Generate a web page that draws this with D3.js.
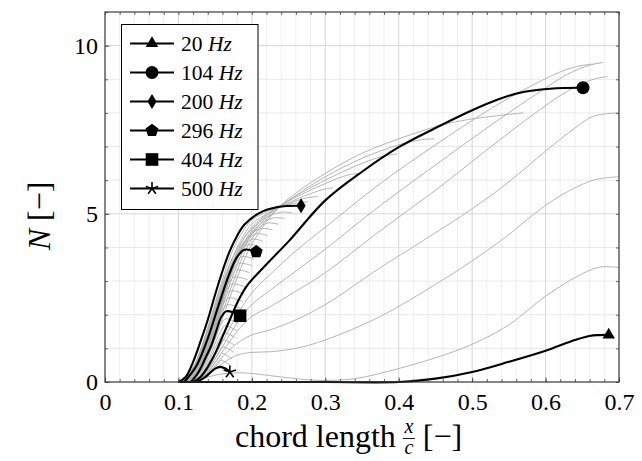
<!DOCTYPE html>
<html>
<head>
<meta charset="utf-8">
<script src="https://cdn.jsdelivr.net/npm/d3@7"></script>
<style>
  body { margin: 0; background: #fff; }
  svg { display: block; }
  text { font-family: "Liberation Serif", "DejaVu Serif", serif; fill: #000; }
</style>
</head>
<body>
<svg id="chart" width="642" height="461"></svg>
<script>
// N-factor growth along the chord for each disturbance frequency.

// Axis ticks
const xMajorTicks = [0, 0.1, 0.2, 0.3, 0.4, 0.5, 0.6, 0.7];
const xTickLabels = ["0", "0.1", "0.2", "0.3", "0.4", "0.5", "0.6", "0.7"];
const yMajorTicks = [0, 5, 10];
const yTickLabels = ["0", "5", "10"];

// Highlighted frequencies [Hz]
const highlightFreqs = [20, 104, 200, 296, 404, 500];
const hx20  = [0.10, 0.20, 0.30, 0.40, 0.45, 0.50, 0.55, 0.60, 0.64, 0.66, 0.686];
const hn20  = [0, 0, 0, 0.0, 0.1, 0.3, 0.6, 0.93, 1.25, 1.37, 1.40];
const hx104 = [0.12, 0.13, 0.14, 0.15, 0.16, 0.17, 0.18, 0.193, 0.22, 0.25, 0.30, 0.35, 0.40, 0.45, 0.50, 0.535, 0.565, 0.606, 0.651];
const hn104 = [0, 0.15, 0.45, 0.85, 1.35, 1.85, 2.35, 2.85, 3.5, 4.18, 5.4, 6.25, 6.98, 7.55, 8.08, 8.40, 8.60, 8.72, 8.75];
const hx200 = [0.10, 0.11, 0.12, 0.13, 0.14, 0.15, 0.16, 0.17, 0.18, 0.19, 0.21, 0.235, 0.267];
const hn200 = [0, 0.15, 0.6, 1.2, 1.85, 2.6, 3.3, 3.9, 4.35, 4.68, 5.02, 5.2, 5.24];
const hx296 = [0.108, 0.125, 0.14, 0.155, 0.17, 0.18, 0.19, 0.206];
const hn296 = [0, 0.5, 1.3, 2.3, 3.25, 3.72, 3.93, 3.87];
const hx404 = [0.117, 0.127, 0.137, 0.145, 0.152, 0.158, 0.165, 0.175, 0.184];
const hn404 = [0, 0.28, 0.72, 1.1, 1.55, 1.92, 2.10, 2.07, 1.97];
const hx500 = [0.125, 0.135, 0.143, 0.15, 0.157, 0.164, 0.170];
const hn500 = [0, 0.12, 0.27, 0.4, 0.45, 0.4, 0.30];

// Remaining frequencies [Hz], drawn in grey
const backgroundFreqs = [32, 44, 56, 68, 80, 92, 116, 128, 140, 152, 164, 176, 188,
  212, 224, 236, 248, 260, 272, 284, 308, 320, 332, 344, 356, 368, 380, 392,
  416, 428, 440, 452, 464, 476, 488];
const backgroundX = [
  [0.10, 0.13, 0.16, 0.19, 0.24, 0.29, 0.34, 0.40, 0.45, 0.50, 0.55, 0.60, 0.65, 0.675, 0.70],
  [0.125, 0.14, 0.16, 0.18, 0.20, 0.225, 0.26, 0.30, 0.375, 0.45, 0.50, 0.542, 0.61, 0.665, 0.70],
  [0.125, 0.14, 0.16, 0.18, 0.20, 0.225, 0.26, 0.30, 0.375, 0.433, 0.50, 0.55, 0.602, 0.64, 0.665, 0.70],
  [0.125, 0.14, 0.16, 0.18, 0.20, 0.225, 0.26, 0.30, 0.375, 0.45, 0.52, 0.58, 0.63, 0.665, 0.684],
  [0.125, 0.14, 0.16, 0.18, 0.20, 0.225, 0.26, 0.30, 0.375, 0.45, 0.52, 0.58, 0.63, 0.66, 0.678],
  [0.125, 0.14, 0.16, 0.18, 0.20, 0.225, 0.26, 0.30, 0.375, 0.45, 0.52, 0.58, 0.63, 0.655, 0.665],
  [0.113, 0.13, 0.14, 0.15, 0.16, 0.17, 0.18, 0.19, 0.20, 0.225, 0.25, 0.30, 0.35, 0.416, 0.47, 0.52, 0.57],
  [0.112, 0.13, 0.14, 0.15, 0.16, 0.17, 0.18, 0.19, 0.20, 0.225, 0.25, 0.30, 0.35, 0.40, 0.43, 0.449],
  [0.111, 0.13, 0.14, 0.15, 0.16, 0.17, 0.18, 0.19, 0.20, 0.225, 0.25, 0.30, 0.35, 0.38, 0.398],
  [0.109, 0.13, 0.14, 0.15, 0.16, 0.17, 0.18, 0.19, 0.20, 0.225, 0.25, 0.30, 0.33, 0.345],
  [0.107, 0.13, 0.14, 0.15, 0.16, 0.17, 0.18, 0.19, 0.20, 0.225, 0.25, 0.28, 0.30, 0.31],
  [0.105, 0.12, 0.13, 0.14, 0.15, 0.16, 0.17, 0.18, 0.19, 0.20, 0.225, 0.25, 0.27, 0.29],
  [0.103, 0.12, 0.13, 0.14, 0.15, 0.16, 0.17, 0.18, 0.19, 0.20, 0.225, 0.25, 0.277],
  [0.101, 0.12, 0.14, 0.16, 0.18, 0.20, 0.22, 0.24, 0.255],
  [0.102, 0.12, 0.14, 0.16, 0.18, 0.20, 0.215, 0.23, 0.245],
  [0.103, 0.12, 0.14, 0.16, 0.18, 0.20, 0.22, 0.236],
  [0.104, 0.12, 0.14, 0.16, 0.18, 0.195, 0.212, 0.228],
  [0.105, 0.12, 0.14, 0.16, 0.175, 0.19, 0.205, 0.221],
  [0.106, 0.12, 0.14, 0.16, 0.175, 0.188, 0.199, 0.215],
  [0.107, 0.12, 0.14, 0.155, 0.17, 0.183, 0.194, 0.21],
  [0.109, 0.125, 0.14, 0.155, 0.168, 0.178, 0.186, 0.203],
  [0.110, 0.125, 0.14, 0.155, 0.166, 0.175, 0.182, 0.200],
  [0.111, 0.125, 0.14, 0.152, 0.163, 0.172, 0.179, 0.197],
  [0.112, 0.125, 0.14, 0.15, 0.16, 0.169, 0.176, 0.194],
  [0.113, 0.125, 0.14, 0.15, 0.158, 0.166, 0.173, 0.192],
  [0.114, 0.125, 0.138, 0.148, 0.156, 0.164, 0.171, 0.190],
  [0.115, 0.125, 0.136, 0.146, 0.154, 0.162, 0.169, 0.188],
  [0.116, 0.126, 0.136, 0.145, 0.153, 0.160, 0.167, 0.186],
  [0.118, 0.128, 0.137, 0.145, 0.152, 0.158, 0.164, 0.182],
  [0.119, 0.129, 0.138, 0.146, 0.152, 0.158, 0.163, 0.180],
  [0.120, 0.13, 0.139, 0.146, 0.152, 0.157, 0.162, 0.178],
  [0.121, 0.131, 0.14, 0.147, 0.152, 0.157, 0.161, 0.176],
  [0.122, 0.132, 0.141, 0.148, 0.153, 0.157, 0.160, 0.175],
  [0.123, 0.133, 0.142, 0.148, 0.153, 0.156, 0.159, 0.173],
  [0.124, 0.134, 0.143, 0.149, 0.153, 0.156, 0.158, 0.171]
];
const backgroundN = [
  [0, 0.1, 0.24, 0.27, 0.15, 0.05, 0.1, 0.4, 0.72, 1.12, 1.7, 2.55, 3.22, 3.42, 3.4],
  [0, 0.2, 0.55, 0.8, 0.88, 0.9, 1.0, 1.25, 1.95, 2.9, 3.6, 4.25, 5.4, 6.0, 6.1],
  [0, 0.25, 0.75, 1.15, 1.4, 1.55, 1.85, 2.3, 3.4, 4.2, 5.15, 5.95, 6.9, 7.55, 7.9, 8.0],
  [0, 0.3, 0.9, 1.5, 1.95, 2.24, 2.7, 3.25, 4.5, 5.7, 6.9, 7.9, 8.65, 9.0, 9.08],
  [0, 0.35, 1.05, 1.75, 2.3, 2.73, 3.3, 3.95, 5.25, 6.45, 7.55, 8.45, 9.15, 9.42, 9.5],
  [0, 0.4, 1.2, 2.0, 2.65, 3.2, 3.9, 4.6, 5.9, 7.05, 8.05, 8.8, 9.3, 9.43, 9.45],
  [0, 0.3, 0.75, 1.3, 1.9, 2.5, 3.1, 3.65, 4.1, 4.9, 5.45, 6.2, 6.8, 7.35, 7.7, 7.88, 8.0],
  [0, 0.35, 0.85, 1.45, 2.05, 2.7, 3.3, 3.85, 4.25, 4.95, 5.4, 6.1, 6.65, 7.05, 7.2, 7.23],
  [0, 0.4, 0.95, 1.6, 2.25, 2.9, 3.5, 4.0, 4.4, 5.0, 5.4, 6.0, 6.5, 6.72, 6.78],
  [0, 0.5, 1.05, 1.75, 2.45, 3.1, 3.7, 4.15, 4.5, 5.05, 5.38, 5.9, 6.15, 6.2],
  [0, 0.6, 1.2, 1.9, 2.65, 3.3, 3.85, 4.3, 4.6, 5.05, 5.33, 5.6, 5.74, 5.77],
  [0, 0.3, 0.75, 1.35, 2.1, 2.85, 3.5, 4.0, 4.4, 4.7, 5.05, 5.3, 5.45, 5.52],
  [0, 0.4, 0.95, 1.6, 2.35, 3.05, 3.7, 4.2, 4.55, 4.82, 5.1, 5.28, 5.36],
  [0, 0.45, 1.6, 2.95, 3.95, 4.55, 4.9, 5.05, 5.03],
  [0, 0.42, 1.55, 2.85, 3.85, 4.45, 4.75, 4.88, 4.86],
  [0, 0.4, 1.5, 2.8, 3.8, 4.4, 4.72, 4.69],
  [0, 0.38, 1.45, 2.75, 3.75, 4.3, 4.56, 4.52],
  [0, 0.36, 1.4, 2.7, 3.5, 4.1, 4.4, 4.36],
  [0, 0.34, 1.35, 2.65, 3.45, 3.98, 4.24, 4.19],
  [0, 0.32, 1.3, 2.35, 3.3, 3.85, 4.08, 4.03],
  [0, 0.45, 1.25, 2.2, 3.05, 3.55, 3.73, 3.66],
  [0, 0.42, 1.2, 2.1, 2.85, 3.35, 3.53, 3.46],
  [0, 0.4, 1.15, 1.9, 2.65, 3.15, 3.33, 3.25],
  [0, 0.37, 1.1, 1.75, 2.45, 2.95, 3.12, 3.04],
  [0, 0.34, 1.05, 1.65, 2.25, 2.75, 2.91, 2.82],
  [0, 0.31, 0.9, 1.5, 2.05, 2.55, 2.71, 2.61],
  [0, 0.28, 0.8, 1.35, 1.85, 2.35, 2.50, 2.39],
  [0, 0.27, 0.72, 1.2, 1.7, 2.15, 2.30, 2.18],
  [0, 0.25, 0.62, 1.0, 1.4, 1.72, 1.88, 1.74],
  [0, 0.22, 0.55, 0.92, 1.25, 1.52, 1.67, 1.52],
  [0, 0.2, 0.5, 0.82, 1.1, 1.32, 1.46, 1.31],
  [0, 0.18, 0.45, 0.72, 0.95, 1.12, 1.25, 1.10],
  [0, 0.16, 0.4, 0.62, 0.8, 0.95, 1.05, 0.89],
  [0, 0.14, 0.34, 0.52, 0.66, 0.77, 0.85, 0.69],
  [0, 0.12, 0.27, 0.42, 0.52, 0.6, 0.65, 0.49]
];

const highlightX = [hx20, hx104, hx200, hx296, hx404, hx500];
const highlightN = [hn20, hn104, hn200, hn296, hn404, hn500];
const markerKinds = ["triangle", "circle", "diamond", "pentagon", "square", "star"];

const svg = d3.select("#chart");
const plot = { left: 105, right: 619, top: 12, bottom: 382 };
const x = d3.scaleLinear().domain([0, 0.7]).range([plot.left, plot.right]);
const y = d3.scaleLinear().domain([0, 11]).range([plot.bottom, plot.top]);

// Grid
const xMinor = d3.range(0, 0.7001, 0.02).filter(v => Math.abs(v * 10 - Math.round(v * 10)) > 1e-6);
const yMinor = d3.range(0, 11.001, 1).filter(v => v % 5 !== 0);
const grid = svg.append("g");
grid.selectAll(".gxm").data(xMinor).join("line")
  .attr("x1", d => x(d)).attr("x2", d => x(d)).attr("y1", plot.top).attr("y2", plot.bottom)
  .attr("stroke", "#efefef").attr("stroke-width", 1);
grid.selectAll(".gym").data(yMinor).join("line")
  .attr("x1", plot.left).attr("x2", plot.right).attr("y1", d => y(d)).attr("y2", d => y(d))
  .attr("stroke", "#e9e9e9").attr("stroke-width", 1);
grid.selectAll(".gxM").data(xMajorTicks).join("line")
  .attr("x1", d => x(d)).attr("x2", d => x(d)).attr("y1", plot.top).attr("y2", plot.bottom)
  .attr("stroke", "#d6d6d6").attr("stroke-width", 1);
grid.selectAll(".gyM").data(yMajorTicks).join("line")
  .attr("x1", plot.left).attr("x2", plot.right).attr("y1", d => y(d)).attr("y2", d => y(d))
  .attr("stroke", "#d6d6d6").attr("stroke-width", 1);

// Curves
const line = d3.line().x(d => x(d[0])).y(d => y(d[1])).curve(d3.curveCatmullRom.alpha(0.5));
const toPoints = (xs, ns) => xs.map((v, i) => [v, ns[i]]);

svg.append("g").selectAll("path").data(backgroundFreqs).join("path")
  .attr("d", (f, i) => line(toPoints(backgroundX[i], backgroundN[i])))
  .attr("fill", "none").attr("stroke", "#adadad").attr("stroke-width", 0.9);

svg.append("g").selectAll("path").data(highlightFreqs).join("path")
  .attr("d", (f, i) => line(toPoints(highlightX[i], highlightN[i])))
  .attr("fill", "none").attr("stroke", "#000").attr("stroke-width", 2.1)
  .attr("stroke-linejoin", "round");

// Marker shapes
function polygon(n, r, rot) {
  const pts = d3.range(n).map(k => {
    const a = rot + k * 2 * Math.PI / n;
    return [r * Math.cos(a), r * Math.sin(a)];
  });
  return "M" + pts.map(p => p.join(",")).join("L") + "Z";
}
function drawMarker(g, kind, cx, cy) {
  const m = g.append("g").attr("transform", `translate(${cx},${cy})`);
  if (kind === "triangle") {
    m.append("path").attr("d", polygon(3, 7.2, -Math.PI / 2)).attr("fill", "#000");
  } else if (kind === "circle") {
    m.append("circle").attr("r", 6.5).attr("fill", "#000");
  } else if (kind === "diamond") {
    m.append("path").attr("d", "M0,-7.5L4.6,0L0,7.5L-4.6,0Z").attr("fill", "#000");
  } else if (kind === "pentagon") {
    m.append("path").attr("d", polygon(5, 6.8, -Math.PI / 2)).attr("fill", "#000");
  } else if (kind === "square") {
    m.append("rect").attr("x", -6.3).attr("y", -6.3).attr("width", 12.6).attr("height", 12.6).attr("fill", "#000");
  } else if (kind === "star") {
    d3.range(5).forEach(k => {
      const a = -Math.PI / 2 + k * 2 * Math.PI / 5;
      m.append("line").attr("x1", 0).attr("y1", 0)
        .attr("x2", 6.5 * Math.cos(a)).attr("y2", 6.5 * Math.sin(a))
        .attr("stroke", "#000").attr("stroke-width", 1.6);
    });
  }
}

const markers = svg.append("g");
highlightFreqs.forEach((f, i) => {
  const xs = highlightX[i], ns = highlightN[i];
  drawMarker(markers, markerKinds[i], x(xs[xs.length - 1]), y(ns[ns.length - 1]));
});

// Axes: ticks point inward on all four sides
const fmtX = d => xTickLabels[xMajorTicks.indexOf(d)];
const fmtY = d => yTickLabels[yMajorTicks.indexOf(d)];
const xMinorAll = d3.range(0, 0.7001, 0.02);
const yMinorAll = d3.range(0, 11.001, 1);

function styleAxis(g) {
  g.select(".domain").remove();
  g.selectAll(".tick line").attr("stroke", "#444").attr("stroke-width", 0.8);
  g.selectAll("text").attr("font-family", "Liberation Serif, DejaVu Serif, serif").attr("font-size", 24).attr("fill", "#000");
}
svg.append("g").attr("transform", `translate(0,${plot.bottom})`)
  .call(d3.axisBottom(x).tickValues(xMinorAll).tickSize(-3).tickFormat("")).call(styleAxis);
svg.append("g").attr("transform", `translate(0,${plot.bottom})`)
  .call(d3.axisBottom(x).tickValues(xMajorTicks).tickSize(-4.5).tickPadding(11).tickFormat(fmtX)).call(styleAxis);
svg.append("g").attr("transform", `translate(0,${plot.top})`)
  .call(d3.axisTop(x).tickValues(xMinorAll).tickSize(-3).tickFormat("")).call(styleAxis);
svg.append("g").attr("transform", `translate(${plot.left},0)`)
  .call(d3.axisLeft(y).tickValues(yMinorAll).tickSize(-3).tickFormat("")).call(styleAxis);
svg.append("g").attr("transform", `translate(${plot.left},0)`)
  .call(d3.axisLeft(y).tickValues(yMajorTicks).tickSize(-4.5).tickPadding(7).tickFormat(fmtY)).call(styleAxis);
svg.append("g").attr("transform", `translate(${plot.right},0)`)
  .call(d3.axisRight(y).tickValues(yMinorAll).tickSize(-3).tickFormat("")).call(styleAxis);

// Frame
svg.append("rect").attr("x", plot.left).attr("y", plot.top)
  .attr("width", plot.right - plot.left).attr("height", plot.bottom - plot.top)
  .attr("fill", "none").attr("stroke", "#333").attr("stroke-width", 1.1);

// Axis titles
const xt = svg.append("g");
const xtMain = xt.append("text").attr("x", 235).attr("y", 447).attr("font-size", 32).text("chord length");
const mainEnd = 235 + xtMain.node().getComputedTextLength();
const fracX = mainEnd + 13;
xt.append("text").attr("x", fracX).attr("y", 433).attr("text-anchor", "middle")
  .attr("font-size", 20).attr("font-style", "italic").text("x");
xt.append("line").attr("x1", fracX - 6).attr("x2", fracX + 6).attr("y1", 438.5).attr("y2", 438.5)
  .attr("stroke", "#000").attr("stroke-width", 0.9);
xt.append("text").attr("x", fracX).attr("y", 454).attr("text-anchor", "middle")
  .attr("font-size", 20).attr("font-style", "italic").text("c");
xt.append("text").attr("x", fracX + 14).attr("y", 447).attr("font-size", 32).text("[−]");

const yt = svg.append("text").attr("transform", "translate(50,216) rotate(-90)")
  .attr("text-anchor", "middle").attr("font-size", 32);
yt.append("tspan").attr("font-style", "italic").text("N");
yt.append("tspan").text(" [−]");

// Legend
const legend = svg.append("g");
legend.append("rect").attr("x", 121.5).attr("y", 24.5).attr("width", 136.5).attr("height", 185)
  .attr("fill", "#fff").attr("stroke", "#000").attr("stroke-width", 1);
highlightFreqs.forEach((f, i) => {
  const ly = 43.5 + i * 29;
  legend.append("line").attr("x1", 130).attr("x2", 174).attr("y1", ly).attr("y2", ly)
    .attr("stroke", "#000").attr("stroke-width", 2);
  drawMarker(legend, markerKinds[i], 152, ly);
  const t = legend.append("text").attr("x", 181).attr("y", ly + 7).attr("font-size", 21.5);
  t.append("tspan").text(f + " ");
  t.append("tspan").attr("font-style", "italic").text("Hz");
});
</script>
</body>
</html>
